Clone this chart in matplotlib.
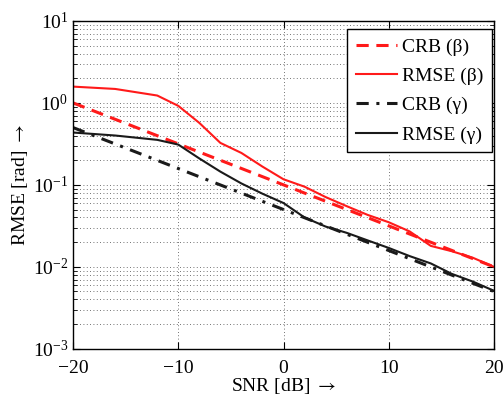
import numpy as np
import matplotlib
matplotlib.use("Agg")
import matplotlib.pyplot as plt
from matplotlib.ticker import LogLocator

plt.rcParams['font.family'] = ['Liberation Serif', 'DejaVu Serif']
plt.rcParams['mathtext.fontset'] = 'stix'
plt.rcParams['font.size'] = 14

# data
snr = [-20, -16, -12, -10, -8, -6, -4, -2, 0, 2, 4, 6, 8, 10, 12, 14, 16, 18, 20]
crb_beta = [10 ** (-(s + 20) / 20) for s in snr]
crb_gamma = [0.5 * c for c in crb_beta]
rmse_beta = [1.58, 1.48, 1.23, 0.92, 0.57, 0.325, 0.245, 0.167, 0.117, 0.095,
             0.071, 0.055, 0.043, 0.035, 0.027, 0.018, 0.0155, 0.0129, 0.0100]
rmse_gamma = [0.435, 0.40, 0.354, 0.31, 0.21, 0.145, 0.104, 0.078, 0.060, 0.040,
              0.031, 0.026, 0.021, 0.017, 0.0135, 0.011, 0.0082, 0.0066, 0.0051]

fig = plt.figure(figsize=(5.04, 3.95), dpi=100)
ax = fig.add_axes([0.145, 0.117, 0.835, 0.830])

ax.semilogy(snr, crb_beta, color='#ff1a1a', ls=(0, (4, 2.5)), lw=2.2, label='CRB (β)')
ax.semilogy(snr, rmse_beta, color='#ff1a1a', lw=1.5, label='RMSE (β)')
ax.semilogy(snr, crb_gamma, color='#1a1a1a', ls=(0, (4, 2.5, 1, 2.5)), lw=2.2, label='CRB (γ)')
ax.semilogy(snr, rmse_gamma, color='#1a1a1a', lw=1.5, label='RMSE (γ)')

ax.set_xlim(-20, 20)
ax.set_ylim(1e-3, 1e1)
ax.yaxis.set_major_locator(LogLocator(base=10, numticks=10))
ax.yaxis.set_minor_locator(LogLocator(base=10, subs=np.arange(2, 10), numticks=10))
ax.set_xticks([-20, -10, 0, 10, 20])
ax.set_xticklabels(['\u221220', '\u221210', '0', '10', '20'])

ax.grid(True, which='major', ls=(0, (1, 3)), color='#444444', lw=0.6)
ax.grid(True, which='minor', axis='y', ls=(0, (1, 3)), color='#444444', lw=0.6)
ax.tick_params(which='both', direction='in', top=True, right=True)
ax.tick_params(which='major', length=5)
ax.tick_params(which='minor', length=3)
ax.tick_params(axis='x', pad=8)
for s in ax.spines.values():
    s.set_linewidth(1.0)

ax.set_xlabel(r'SNR [dB] $\rightarrow$', labelpad=-1)
ax.set_ylabel(r'RMSE [rad] $\rightarrow$', labelpad=2)

leg = ax.legend(loc='upper right', bbox_to_anchor=(0.995, 0.975), fancybox=False,
                edgecolor='black', framealpha=1,
                handlelength=2.1, handletextpad=0.25, borderpad=0.45, labelspacing=0.6,
                borderaxespad=0.0)
leg.get_frame().set_linewidth(1.0)

fig.savefig('out.png', dpi=100)
